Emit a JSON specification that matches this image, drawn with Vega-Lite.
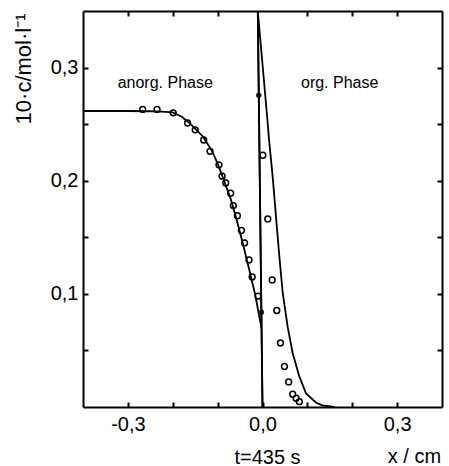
{
  "$schema": "https://vega.github.io/schema/vega-lite/v6.json",
  "width": 359,
  "height": 396,
  "autosize": {"type": "none"},
  "padding": {"left": 83, "top": 11, "right": 7, "bottom": 59},
  "background": "white",
  "config": {
    "view": {"stroke": null},
    "font": "Liberation Sans",
    "axis": {
      "grid": false,
      "domainColor": "black",
      "domainWidth": 2,
      "tickColor": "black",
      "tickWidth": 2,
      "tickSize": -5,
      "labelColor": "black",
      "labelFont": "Liberation Sans",
      "labelFontSize": 20,
      "titleColor": "black",
      "titleFont": "Liberation Sans",
      "titleFontWeight": "normal",
      "labelFlush": false,
      "labelOverlap": false
    }
  },
  "datasets": {
    "curves": [
      {"series": "anorg", "x": -0.4, "y": 0.2616},
      {"series": "anorg", "x": -0.3, "y": 0.2616},
      {"series": "anorg", "x": -0.25, "y": 0.2614},
      {"series": "anorg", "x": -0.225, "y": 0.261},
      {"series": "anorg", "x": -0.2, "y": 0.2604},
      {"series": "anorg", "x": -0.18, "y": 0.2565},
      {"series": "anorg", "x": -0.162, "y": 0.2507},
      {"series": "anorg", "x": -0.133, "y": 0.2391},
      {"series": "anorg", "x": -0.113, "y": 0.2267},
      {"series": "anorg", "x": -0.099, "y": 0.2142},
      {"series": "anorg", "x": -0.084, "y": 0.1982},
      {"series": "anorg", "x": -0.071, "y": 0.184},
      {"series": "anorg", "x": -0.058, "y": 0.1662},
      {"series": "anorg", "x": -0.0435, "y": 0.144},
      {"series": "anorg", "x": -0.0298, "y": 0.1218},
      {"series": "anorg", "x": -0.0165, "y": 0.0996},
      {"series": "anorg", "x": -0.0025, "y": 0.0702},
      {"series": "org", "x": -0.0105, "y": 0.35},
      {"series": "org", "x": 0.0107, "y": 0.255},
      {"series": "org", "x": 0.0144, "y": 0.237},
      {"series": "org", "x": 0.023, "y": 0.202},
      {"series": "org", "x": 0.0305, "y": 0.166},
      {"series": "org", "x": 0.038, "y": 0.131},
      {"series": "org", "x": 0.045, "y": 0.101},
      {"series": "org", "x": 0.056, "y": 0.071},
      {"series": "org", "x": 0.067, "y": 0.048},
      {"series": "org", "x": 0.082, "y": 0.027},
      {"series": "org", "x": 0.097, "y": 0.012},
      {"series": "org", "x": 0.119, "y": 0.004},
      {"series": "org", "x": 0.133, "y": 0.0015},
      {"series": "org", "x": 0.16, "y": 0.0},
      {"series": "interface", "x": -0.0105, "y": 0.35},
      {"series": "interface", "x": 0.0, "y": 0.0}
    ],
    "points": [
      {"kind": "open", "x": -0.267, "y": 0.263},
      {"kind": "open", "x": -0.235, "y": 0.263},
      {"kind": "open", "x": -0.199, "y": 0.26},
      {"kind": "open", "x": -0.167, "y": 0.251},
      {"kind": "open", "x": -0.15, "y": 0.245},
      {"kind": "open", "x": -0.131, "y": 0.236},
      {"kind": "open", "x": -0.117, "y": 0.226},
      {"kind": "open", "x": -0.097, "y": 0.214},
      {"kind": "open", "x": -0.09, "y": 0.204},
      {"kind": "open", "x": -0.082, "y": 0.198},
      {"kind": "open", "x": -0.071, "y": 0.189},
      {"kind": "open", "x": -0.065, "y": 0.178},
      {"kind": "open", "x": -0.056, "y": 0.169},
      {"kind": "open", "x": -0.047, "y": 0.156},
      {"kind": "open", "x": -0.04, "y": 0.145},
      {"kind": "open", "x": -0.03, "y": 0.13},
      {"kind": "open", "x": -0.023, "y": 0.115},
      {"kind": "open", "x": -0.01, "y": 0.098},
      {"kind": "open", "x": 0.0007, "y": 0.2225},
      {"kind": "open", "x": 0.0118, "y": 0.1662},
      {"kind": "open", "x": 0.0216, "y": 0.1123},
      {"kind": "open", "x": 0.0318, "y": 0.0853},
      {"kind": "open", "x": 0.04, "y": 0.0566},
      {"kind": "open", "x": 0.0489, "y": 0.0358},
      {"kind": "open", "x": 0.0584, "y": 0.0222},
      {"kind": "open", "x": 0.0673, "y": 0.0113},
      {"kind": "open", "x": 0.0749, "y": 0.0077},
      {"kind": "open", "x": 0.0822, "y": 0.0047},
      {"kind": "filled", "x": -0.0083, "y": 0.2756},
      {"kind": "filled", "x": -0.0025, "y": 0.0838}
    ],
    "labels": [
      {"label": "anorg. Phase", "x": -0.2167, "y": 0.2818},
      {"label": "org. Phase", "x": 0.172, "y": 0.2818}
    ],
    "unit": [
      {"label": "x / cm", "x": 0.398, "y": -0.0495}
    ]
  },
  "layer": [
    {
      "encoding": {
        "x": {
          "field": "x",
          "type": "quantitative",
          "scale": {"domain": [-0.4, 0.4], "nice": false, "zero": false},
          "axis": {
            "orient": "bottom",
            "values": [-0.3, -0.2, -0.1, 0, 0.1, 0.2, 0.3],
            "ticks": true,
            "tickSize": -5,
            "tickColor": "black",
            "tickWidth": 2,
            "labelExpr": "abs(datum.value + 0.3) < 0.001 ? '-0,3' : (abs(datum.value) < 0.001 ? '0,0' : (abs(datum.value - 0.3) < 0.001 ? '0,3' : ''))",
            "labelBaseline": "alphabetic",
            "labelPadding": 28,
            "title": "t=435 s",
            "titleFontSize": 20,
            "titleBaseline": "alphabetic",
            "titleAlign": "center",
            "titleAnchor": null,
            "titleX": 184,
            "titleY": 56
          }
        },
        "y": {
          "field": "y",
          "type": "quantitative",
          "scale": {"domain": [0, 0.35], "nice": false, "zero": false},
          "axis": {
            "orient": "left",
            "values": [0.05, 0.1, 0.15, 0.2, 0.25, 0.3],
            "labelExpr": "abs(datum.value * 10 - round(datum.value * 10)) < 0.01 ? replace(format(datum.value, '.1f'), '.', ',') : ''",
            "labelPadding": 10,
            "labelBaseline": "middle",
            "title": "10·c/mol·l⁻¹",
            "titleFontSize": 22,
            "titleAngle": 270,
            "titleAlign": "right",
            "titleBaseline": "alphabetic",
            "titleAnchor": null,
            "titleX": -53,
            "titleY": 2
          }
        }
      },
      "layer": [
        {
          "data": {"name": "curves"},
          "mark": {"type": "line", "color": "black", "strokeWidth": 1.8},
          "encoding": {"detail": {"field": "series", "type": "nominal"}}
        },
        {
          "data": {"name": "points"},
          "transform": [{"filter": "datum.kind === 'open'"}],
          "mark": {"type": "point", "shape": "circle", "filled": false, "color": "black", "strokeWidth": 1.5, "size": 34, "opacity": 1}
        },
        {
          "data": {"name": "points"},
          "transform": [{"filter": "datum.kind === 'filled'"}],
          "mark": {"type": "point", "shape": "circle", "filled": true, "color": "#222222", "size": 30, "opacity": 1}
        },
        {
          "data": {"name": "labels"},
          "mark": {"type": "text", "font": "Liberation Sans", "fontSize": 16, "color": "black", "align": "center", "baseline": "alphabetic"},
          "encoding": {"text": {"field": "label", "type": "nominal"}}
        },
        {
          "data": {"name": "unit"},
          "mark": {"type": "text", "font": "Liberation Sans", "fontSize": 20, "color": "black", "align": "right", "baseline": "alphabetic"},
          "encoding": {"text": {"field": "label", "type": "nominal"}}
        }
      ]
    },
    {
      "data": {"name": "curves"},
      "transform": [{"filter": "datum.series === 'interface'"}],
      "mark": {"type": "line", "color": "black", "strokeWidth": 1.8},
      "encoding": {
        "x": {
          "field": "x",
          "type": "quantitative",
          "scale": {"domain": [-0.4, 0.4], "nice": false, "zero": false},
          "axis": {"orient": "top", "values": [-0.3, -0.2, -0.1, 0.1, 0.2, 0.3], "ticks": true, "tickSize": -5, "tickColor": "black", "tickWidth": 2, "labels": false, "title": null}
        },
        "y": {
          "field": "y",
          "type": "quantitative",
          "scale": {"domain": [0, 0.35], "nice": false, "zero": false},
          "axis": {"orient": "right", "values": [0.05, 0.1, 0.15, 0.2, 0.25, 0.3], "labels": false, "title": null}
        }
      }
    }
  ],
  "resolve": {"axis": {"x": "independent", "y": "independent"}}
}
